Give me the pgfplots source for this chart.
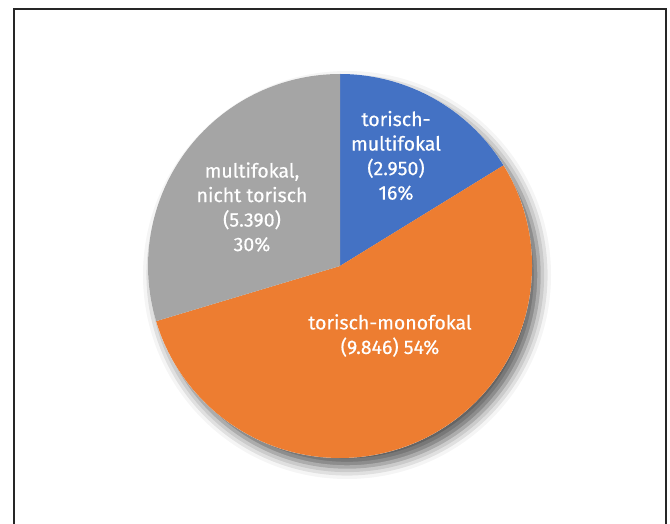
\documentclass[border=0pt]{standalone}
\usepackage{pgfplots}
\pgfplotsset{compat=1.18}
\usepackage{fontspec}
\setmainfont{Fira Sans}
\newfontfamily\lblfont{Fira Sans}[FakeBold=0.4]
\usetikzlibrary{shadows.blur}
\definecolor{cblue}{HTML}{4472C4}
\definecolor{corange}{HTML}{ED7D31}
\definecolor{cgray}{HTML}{A5A5A5}
\begin{document}
\begin{tikzpicture}
\begin{axis}[
  scale only axis, width=670pt, height=523pt,
  xmin=0, xmax=670, ymin=0, ymax=523,
  hide axis, clip=true,
]
% values (number of lenses)
\pgfmathsetmacro{\va}{2950}% torisch-multifokal
\pgfmathsetmacro{\vb}{9846}% torisch-monofokal
\pgfmathsetmacro{\vc}{5390}% multifokal, nicht torisch
\pgfmathsetmacro{\tot}{\va/1000+\vb/1000+\vc/1000}
\pgfmathsetmacro{\aA}{90}
\pgfmathsetmacro{\aB}{90-360*(\va/1000)/\tot}
\pgfmathsetmacro{\aC}{\aB-360*(\vb/1000)/\tot}
\pgfmathsetmacro{\aD}{\aC-360*(\vc/1000)/\tot}
% frame
\draw[black!85, line width=2pt] (axis cs:14,-5) -- (axis cs:14,514) -- (axis cs:666,514) -- (axis cs:666,-5);
% shadow
\fill[white, blur shadow={shadow xshift=7pt, shadow yshift=-9pt, shadow blur radius=12pt, shadow opacity=65}] (axis cs:340,257) circle[radius=192];
\fill[cblue] (axis cs:340,257) -- ++(\aA:192) arc[start angle=\aA, end angle=\aB, radius=192pt] -- cycle;
\fill[corange] (axis cs:340,257) -- ++(\aB:192) arc[start angle=\aB, end angle=\aC, radius=192pt] -- cycle;
\fill[cgray] (axis cs:340,257) -- ++(\aC:192) arc[start angle=\aC, end angle=\aD, radius=192pt] -- cycle;
\tikzset{lbl/.style={text=white, align=center, font=\lblfont\fontsize{19.5}{24.5}\selectfont, inner sep=0pt}}
\node[lbl] at (axis cs:396,367.5) {torisch-\\multifokal\\(2.950)\\16\%};
\node[lbl] at (axis cs:252,316) {multifokal,\\nicht torisch\\(5.390)\\30\%};
\node[lbl] at (axis cs:390,187.5) {torisch-monofokal\\(9.846) 54\%};
\end{axis}
\pgfresetboundingbox
\useasboundingbox (current axis.south west) rectangle (current axis.north east);
\end{tikzpicture}
\end{document}
